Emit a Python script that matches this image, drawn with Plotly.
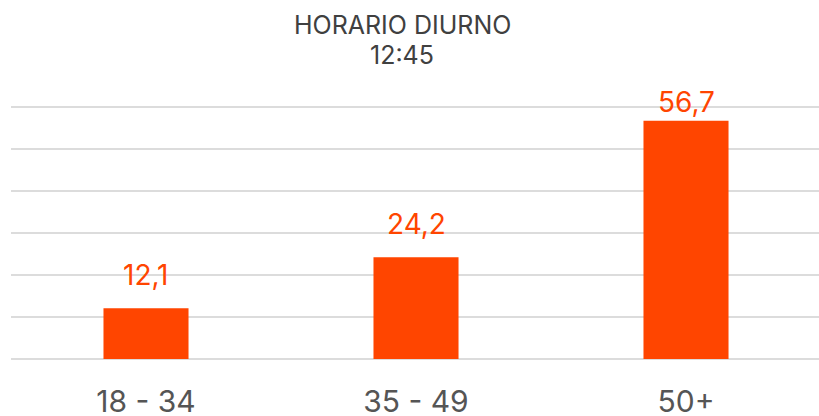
import plotly.graph_objects as go

categories = ["18 - 34", "35 - 49", "50+"]
values = [12.1, 24.2, 56.7]
title_lines = ["HORARIO DIURNO", "12:45"]

BAR = "#FF4500"
FONT = "Inter"
W, H = 822, 416
M_L, M_R, M_T, M_B = 11, 1, 98, 57
PX_PER_UNIT = 4.2
PLOT_W = W - M_L - M_R
PLOT_H = H - M_T - M_B
Y_TOP = PLOT_H / PX_PER_UNIT
GRID_MAX = 60

fig = go.Figure(go.Bar(x=categories, y=values, marker=dict(color=BAR, line=dict(width=0)),
                       hoverinfo="skip"))

for c, v in zip(categories, values):
    label_y = min(v + 33 / PX_PER_UNIT, GRID_MAX + 5 / PX_PER_UNIT)
    fig.add_annotation(x=c, y=label_y, text=f"{v:.1f}".replace(".", ","), showarrow=False,
                       yanchor="middle", font=dict(family=FONT, size=28, color=BAR))

fig.update_layout(
    width=W, height=H,
    margin=dict(l=M_L, r=M_R, t=M_T, b=M_B, autoexpand=False),
    paper_bgcolor="white", plot_bgcolor="white",
    bargap=0.685,
    showlegend=False,
    font=dict(family=FONT),
    xaxis=dict(showgrid=False, showline=False, ticks="", automargin=False,
               tickfont=dict(size=30, color="#555555"), ticklabelstandoff=22),
    yaxis=dict(range=[0, Y_TOP], tickvals=list(range(0, GRID_MAX + 1, 10)), showgrid=True,
               gridcolor="#DCDCDC", gridwidth=1.5,
               showticklabels=False, automargin=False,
               zeroline=True, zerolinecolor="#DCDCDC", zerolinewidth=1.5),
)
for text, ypix in zip(title_lines, [25, 55]):
    fig.add_annotation(x=(402 - M_L) / PLOT_W, y=(H - M_B - ypix) / PLOT_H, xref="paper", yref="paper",
                       text=text, showarrow=False, yanchor="middle", xanchor="center",
                       font=dict(family=FONT, size=25, color="#404040"))

fig.write_html("out.html", config={"displayModeBar": False, "staticPlot": True},
               post_script="document.body.style.margin='0';document.body.style.overflow='hidden';")
